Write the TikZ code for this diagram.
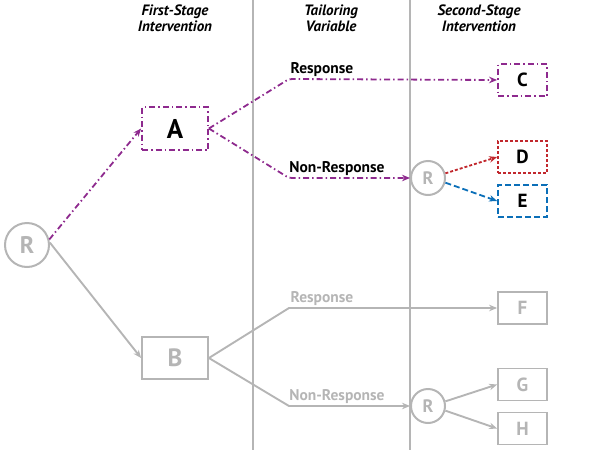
\documentclass[tikz,border=0pt]{standalone}
\usepackage{fontspec}
\setmainfont{PT Sans}
\usetikzlibrary{arrows.meta}
\definecolor{tpurple}{HTML}{8E2A8E}
\definecolor{tred}{HTML}{C1272D}
\definecolor{tblue}{HTML}{0B6FB8}
\definecolor{tgray}{HTML}{B5B5B5}
\begin{document}
\begin{tikzpicture}[x=1pt,y=-1pt,
  sep/.style={draw=tgray,line width=1.4pt},
  head/.style={font=\fontsize{15}{16}\selectfont\bfseries\itshape,align=center,text=black},
  rnode/.style={circle,draw=tgray,line width=2pt,text=tgray,font=\bfseries,inner sep=0pt},
  boxnode/.style={draw,line width=1.8pt,minimum width=49pt,minimum height=32pt,inner sep=0pt,font=\fontsize{19}{19}\selectfont\bfseries},
  lbl/.style={font=\fontsize{15.5}{15.5}\selectfont\bfseries,inner sep=0pt,anchor=base},
  tip/.style={-{Stealth[length=8pt,width=6.5pt]}},
  dashdot/.style={dash pattern=on 6pt off 3pt on 1.5pt off 3pt},
  purpleline/.style={draw=tpurple,line width=1.8pt,dashdot},
  grayline/.style={draw=tgray,line width=1.9pt},
]
\useasboundingbox (0,0) rectangle (600,450);

% stage separators
\draw[sep] (253,0) -- (253,450);
\draw[sep] (410,0) -- (410,450);

% column headings
\node[head] (h1) at (175,18) {First-Stage\\Intervention};
\node[head] (h2) at (331,18) {Tailoring\\Variable};
\node[head] (h3) at (479,18) {Second-Stage\\Intervention};

% initial randomisation
\node[rnode,minimum size=44pt,font=\fontsize{24}{24}\selectfont\bfseries] (R0) at (27,245) {R};

% first-stage options
\node[boxnode,draw=tpurple,dashdot,minimum width=66pt,minimum height=43pt,font=\fontsize{27}{27}\selectfont\bfseries] (A) at (175,128.5) {A};
\node[boxnode,draw=tgray,text=tgray,minimum width=66pt,minimum height=42pt,font=\fontsize{25}{25}\selectfont\bfseries] (B) at (175,358) {B};

% second randomisations
\node[rnode,minimum size=34pt,font=\fontsize{18}{18}\selectfont\bfseries] (R1) at (428,178) {R};
\node[rnode,minimum size=34pt,font=\fontsize{18}{18}\selectfont\bfseries] (R2) at (428,406) {R};

% second-stage options
\node[boxnode,draw=tpurple,dashdot] (C) at (522.5,80) {C};
\node[boxnode,draw=tred,dash pattern=on 3pt off 2pt] (D) at (522.5,157) {D};
\node[boxnode,draw=tblue,dash pattern=on 6pt off 3pt] (E) at (522.5,201) {E};
\node[boxnode,draw=tgray,text=tgray] (F) at (522.5,308) {F};
\node[boxnode,draw=tgray,text=tgray] (G) at (522.5,384.5) {G};
\node[boxnode,draw=tgray,text=tgray] (H) at (522.5,428.5) {H};

% bend points of the tailoring branches
\coordinate (aR) at (289,79);
\coordinate (aN) at (289,178);
\coordinate (bR) at (289,308);
\coordinate (bN) at (289,406);

% first randomisation
\draw[purpleline,tip] (R0.14) -- (A.west);
\draw[grayline,tip] (R0.6) -- (B.west);

% A branches
\draw[purpleline,tip,rounded corners=3pt] (A.east) -- (aR) -- (C.west);
\draw[purpleline,tip,rounded corners=3pt] (A.east) -- (aN) -- (R1.west);
\node[lbl] (lAR) at (322,73) {Response};
\node[lbl] (lAN) at (337,172) {Non-Response};

% B branches
\draw[grayline,tip] (B.east) -- (bR) -- (F.west);
\draw[grayline,tip] (B.east) -- (bN) -- (R2.west);
\node[lbl,text=tgray] (lBR) at (322,302) {Response};
\node[lbl,text=tgray] (lBN) at (337,400) {Non-Response};

% second randomisation for non-responders to A
\draw[draw=tred,line width=1.8pt,dash pattern=on 3pt off 2pt,tip] (R1.15) -- (D.west);
\draw[draw=tblue,line width=1.8pt,dash pattern=on 6pt off 3pt,tip] (R1.-15) -- (E.west);

% second randomisation for non-responders to B
\draw[grayline,tip] (R2.15) -- (G.west);
\draw[grayline,tip] (R2.-15) -- (H.west);
\end{tikzpicture}
\end{document}
